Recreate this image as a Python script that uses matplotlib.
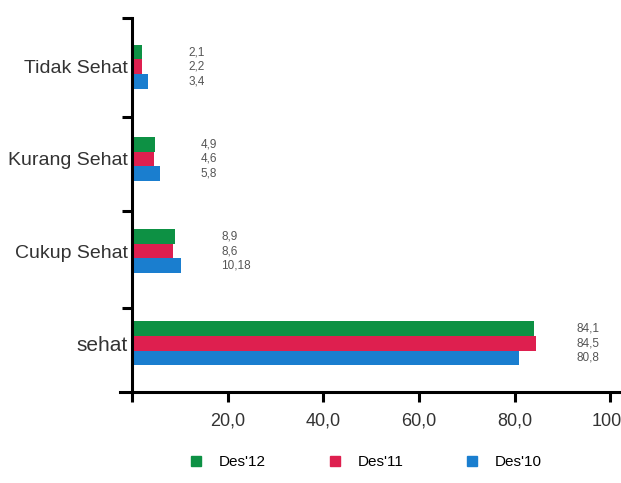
import numpy as np
import matplotlib.pyplot as plt
from matplotlib.transforms import ScaledTranslation

plt.rcParams['font.family'] = ['Liberation Sans', 'DejaVu Sans']

categories = ["Tidak Sehat", "Kurang Sehat", "Cukup Sehat", "sehat"]
des12 = [2.1, 4.9, 8.9, 84.1]
des11 = [2.2, 4.6, 8.6, 84.5]
des10 = [3.4, 5.8, 10.18, 80.8]
series_names = ["Des'12", "Des'11", "Des'10"]
colors = ["#0d9144", "#de1f4f", "#1a7ecf"]
xticks = [0, 20, 40, 60, 80, 100]
xticklabels = ["", "20,0", "40,0", "60,0", "80,0", "100"]

fig = plt.figure(figsize=(6.21, 4.83), dpi=100)
ax = fig.add_axes([120 / 621, 1 - 392 / 483, 500 / 621, 374 / 483])

ypos = np.array([3, 2, 1, 0])
bh = 0.16
offsets = [bh, 0, -bh]
series = [des12, des11, des10]
for vals, off, col, name in zip(series, offsets, colors, series_names):
    ax.barh(ypos + off, vals, height=bh, color=col, label=name)

# value labels, one column per group just right of the longest bar
for i, y in enumerate(ypos):
    xt = max(s[i] for s in series) + 8.5
    for vals, off in zip(series, offsets):
        txt = f"{vals[i]}".replace(".", ",")
        ax.text(xt, y + off, txt, fontsize=8.5, color="#555555",
                ha="left", va="center")

ax.set_xlim(-2.5, 102)
ax.set_ylim(-0.53, 3.53)

for s in ["top", "right"]:
    ax.spines[s].set_visible(False)
ax.spines["left"].set_position(("data", 0))
ax.spines["left"].set_linewidth(2.2)
ax.spines["bottom"].set_linewidth(2.2)

ax.set_xticks(xticks)
ax.set_xticklabels(xticklabels, fontsize=13, color="#333333")
ax.tick_params(axis="x", direction="out", length=7, width=2.2, pad=8)
# keep the last label inside the canvas
last = ax.get_xticklabels()[-1]
last.set_transform(last.get_transform() + ScaledTranslation(-4 / 100, 0, fig.dpi_scale_trans))

# group separators as major ticks, category names on minor ticks
ax.set_yticks([0.38, 1.44, 2.45, 3.53])
ax.set_yticklabels([])
ax.tick_params(axis="y", which="major", direction="out", length=7, width=2.2)
ax.set_yticks(ypos, minor=True)
ax.set_yticklabels(categories, minor=True, color="#333333")
ax.tick_params(axis="y", which="minor", length=0, pad=3)
for lab in ax.get_yticklabels(minor=True):
    lab.set_fontsize(15 if lab.get_text() == "sehat" else 14)

handles = [plt.Line2D([], [], marker="s", linestyle="", markersize=7,
                      color=c) for c in colors]
fig.legend(handles, series_names, loc="center", ncol=3,
           bbox_to_anchor=(0.588, 0.043), frameon=False, fontsize=11,
           handletextpad=1.0, columnspacing=4.0, handlelength=1.0)

fig.savefig("out.png", dpi=100)
